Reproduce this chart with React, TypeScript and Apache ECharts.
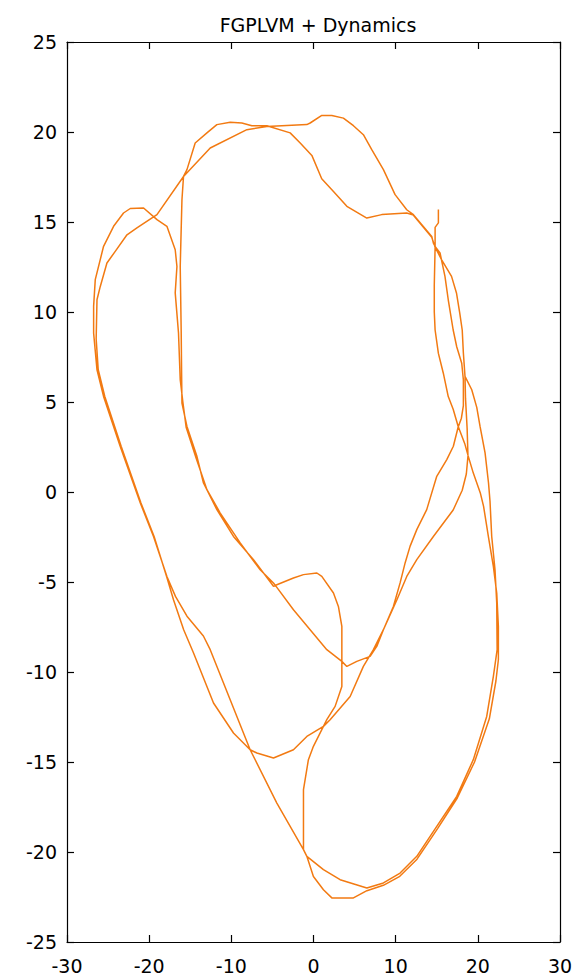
import React, { useEffect, useRef } from "react";
import * as echarts from "echarts";

const TITLE = "FGPLVM + Dynamics";

// Axis ranges and tick spacing
const X_RANGE = [-30, 30];
const X_STEP = 10;
const Y_RANGE = [-25, 25];
const Y_STEP = 5;

// Latent trajectory, split into consecutive stretches of the path
const startDescent: number[][] = [
  [15.2, 15.7], [15.2, 14.95], [14.8, 14.7], [14.8, 13.6], [14.7, 11.5], [14.7, 10.0],
  [14.8, 9.0], [15.2, 7.7], [15.8, 6.6], [16.4, 5.3], [17.0, 4.6], [17.6, 3.65],
  [18.4, 2.7], [18.84, 1.98], [19.45, 1.05], [20.3, -0.05], [20.7, -0.8], [21.28, -2.47],
  [21.89, -4.13], [22.3, -5.61], [22.5, -7.47], [22.5, -9.32], [22.2, -10.5],
];

const rightLower: number[][] = [
  [21.4, -12.6], [19.6, -15.0], [17.5, -17.0], [15.1, -18.7], [12.6, -20.4], [10.5, -21.35],
  [8.5, -21.85], [6.5, -22.15], [4.86, -22.55], [2.23, -22.55], [1.21, -22.1], [-0.01, -21.36],
  [-0.81, -20.24], [-1.22, -19.87],
];

const centreRise: number[][] = [
  [-1.22, -16.53], [-0.62, -14.87], [-0.01, -14.13], [1.62, -12.65], [2.63, -11.91],
  [3.45, -10.8], [3.45, -9.5], [3.45, -7.47], [3.03, -6.36], [2.43, -5.61], [1.01, -4.69],
  [0.41, -4.5], [-1.22, -4.59], [-2.44, -4.78], [-4.46, -5.15], [-4.87, -5.24],
];

const innerClimb: number[][] = [
  [-7.3, -3.76], [-9.74, -2.47], [-11.76, -0.98], [-13.39, 0.5], [-14.19, 1.98], [-15.4, 3.64],
  [-16.01, 4.94], [-16.05, 6.5], [-16.1, 8.83], [-16.22, 12.53], [-16.01, 16.24], [-15.82, 17.53],
];

const topArc: number[][] = [
  [-15.4, 17.91], [-14.4, 19.39], [-12.97, 19.95], [-11.76, 20.41], [-10.14, 20.54],
  [-8.72, 20.5], [-7.5, 20.35], [-5.68, 20.35], [-2.84, 19.95], [-1.62, 19.39], [-0.2, 18.7],
  [1.0, 17.4], [2.43, 16.7], [4.06, 15.87], [6.49, 15.22], [8.31, 15.41], [11.35, 15.5],
  [12.16, 15.38], [14.39, 14.15], [14.8, 13.6],
];

const rightDescent: number[][] = [
  [15.6, 12.9], [16.8, 11.98], [17.4, 11.06], [17.8, 9.94], [18.1, 9.0], [18.24, 7.72],
  [18.44, 6.42], [19.26, 5.68], [19.87, 4.7], [20.27, 3.64], [20.88, 2.17], [21.3, 0.5],
  [21.48, -0.5], [21.69, -2.47], [22.09, -4.32], [22.3, -6.17], [22.35, -8.76], [21.89, -10.24],
  [21.08, -12.47], [19.45, -14.87], [17.43, -16.91], [15.0, -18.58], [12.57, -20.24],
  [10.54, -21.17], [8.51, -21.72], [6.49, -22.0], [3.24, -21.54], [1.21, -20.98],
  [-0.81, -20.24], [-1.22, -19.87],
];

const diagonalUp: number[][] = [
  [-4.46, -17.28], [-7.71, -14.32], [-10.14, -11.54], [-12.57, -8.76], [-13.4, -8.0],
  [-15.4, -6.9], [-16.8, -5.8], [-17.84, -4.69], [-19.47, -2.47], [-21.08, -0.61],
  [-23.52, 2.53], [-25.55, 5.31], [-26.35, 6.79], [-26.76, 8.83], [-26.76, 10.31],
  [-26.56, 11.8], [-25.55, 13.65], [-24.33, 14.76], [-23.12, 15.5], [-22.3, 15.75],
  [-20.68, 15.78], [-19.05, 15.13], [-17.84, 14.76], [-16.83, 13.46], [-16.62, 12.53],
  [-16.83, 11.06], [-16.43, 8.83], [-16.22, 6.24], [-15.9, 5.0],
];

const innerSecond: number[][] = [
  [-15.5, 3.6], [-14.3, 1.9], [-12.97, 0.13], [-11.35, -1.17], [-8.92, -2.83], [-6.49, -4.32],
  [-4.87, -5.06], [-4.46, -5.3], [-2.44, -6.54], [-0.41, -7.65], [1.62, -8.76], [3.45, -9.41],
  [4.06, -9.69], [5.27, -9.41], [6.89, -9.13], [7.7, -8.58],
];

const innerRise: number[][] = [
  [8.51, -7.65], [9.72, -6.36], [10.54, -5.05], [11.15, -3.94], [11.75, -3.02], [12.57, -2.09],
  [13.78, -0.98], [15.0, 0.87], [16.22, 1.8], [17.02, 2.54], [17.6, 3.6], [18.0, 4.1],
  [18.24, 4.8], [18.24, 6.22], [18.04, 7.15], [17.43, 8.07], [17.0, 9.0], [16.4, 10.68],
  [16.0, 11.98], [15.4, 13.28], [14.8, 13.64],
];

const upperReturn: number[][] = [
  [14.59, 13.83], [14.39, 14.2], [12.16, 15.41], [11.35, 15.68], [9.93, 16.52], [8.51, 17.91],
  [7.09, 19.02], [6.07, 19.85], [4.86, 20.35], [3.64, 20.77], [2.23, 20.92], [1.01, 20.92],
  [-0.41, 20.5], [-0.81, 20.41], [-5.68, 20.31], [-8.11, 20.13], [-12.57, 19.11],
  [-15.82, 17.53], [-19.05, 15.41], [-21.49, 14.67], [-22.7, 14.29], [-24.13, 13.37],
  [-25.14, 12.72], [-25.95, 11.42], [-26.35, 10.68], [-26.45, 8.5], [-26.2, 6.79],
];

const leftDescent: number[][] = [
  [-25.4, 5.31], [-23.4, 2.53], [-21.0, -0.61], [-19.4, -2.47], [-17.84, -4.75], [-17.03, -6.0],
  [-15.8, -7.65], [-14.6, -8.94], [-12.17, -11.72], [-9.74, -13.39], [-7.71, -14.32],
  [-6.89, -14.5], [-4.87, -14.78], [-2.44, -14.32], [-0.81, -13.58], [1.21, -13.02],
  [2.02, -12.65], [4.46, -11.36], [6.07, -9.69], [7.29, -8.76],
];

const finalRise: number[][] = [
  [8.51, -7.65], [10.14, -6.0], [11.35, -4.69], [12.57, -3.76], [14.59, -2.47], [17.0, -1.0],
  [18.1, 0.1], [18.6, 1.0], [18.8, 2.0], [18.7, 3.5], [18.5, 5.2], [18.44, 6.42],
];

const trajectory = [
  ...startDescent, ...rightLower, ...centreRise, ...innerClimb, ...topArc, ...rightDescent,
  ...diagonalUp, ...innerSecond, ...innerRise, ...upperReturn, ...leftDescent, ...finalRise,
];

const FONT = "DejaVu Sans, Verdana, sans-serif";
const LINE_COLOR = "#f27a12";

export default function App() {
  const ref = useRef<HTMLDivElement>(null);

  useEffect(() => {
    document.body.style.margin = "0";
    if (!ref.current) return;
    const chart = echarts.init(ref.current, null, { renderer: "svg" });

    const frame = {
      axisLine: { show: true, onZero: false, lineStyle: { color: "#000", width: 1.2 } },
      axisTick: { show: true, inside: true, length: 7, lineStyle: { color: "#000", width: 1.2 } },
      splitLine: { show: false },
    };
    const label = { color: "#000", fontFamily: FONT, fontSize: 19 };

    chart.setOption({
      animation: false,
      backgroundColor: "#ffffff",
      title: {
        text: TITLE,
        left: 313,
        top: 10,
        textAlign: "center",
        textStyle: { color: "#000", fontFamily: FONT, fontSize: 19, fontWeight: "normal" },
      },
      grid: { left: 67, right: 27, top: 42, bottom: 38, containLabel: false, outerBoundsMode: "none" },
      xAxis: [
        {
          type: "value", position: "bottom", min: X_RANGE[0], max: X_RANGE[1], interval: X_STEP,
          ...frame, axisLabel: { ...label, margin: 14 },
        },
        {
          type: "value", position: "top", min: X_RANGE[0], max: X_RANGE[1], interval: X_STEP,
          ...frame, axisLabel: { show: false },
        },
      ],
      yAxis: [
        {
          type: "value", position: "left", min: Y_RANGE[0], max: Y_RANGE[1], interval: Y_STEP,
          ...frame, axisLabel: { ...label, margin: 10 },
        },
        {
          type: "value", position: "right", min: Y_RANGE[0], max: Y_RANGE[1], interval: Y_STEP,
          ...frame, axisLabel: { show: false },
        },
      ],
      series: [
        {
          type: "line",
          xAxisIndex: 0,
          yAxisIndex: 0,
          data: trajectory,
          showSymbol: false,
          symbol: "none",
          smooth: false,
          lineStyle: { color: LINE_COLOR, width: 1.5 },
        },
      ],
    });

    return () => chart.dispose();
  }, []);

  return <div ref={ref} style={{ width: 587, height: 980 }} />;
}
